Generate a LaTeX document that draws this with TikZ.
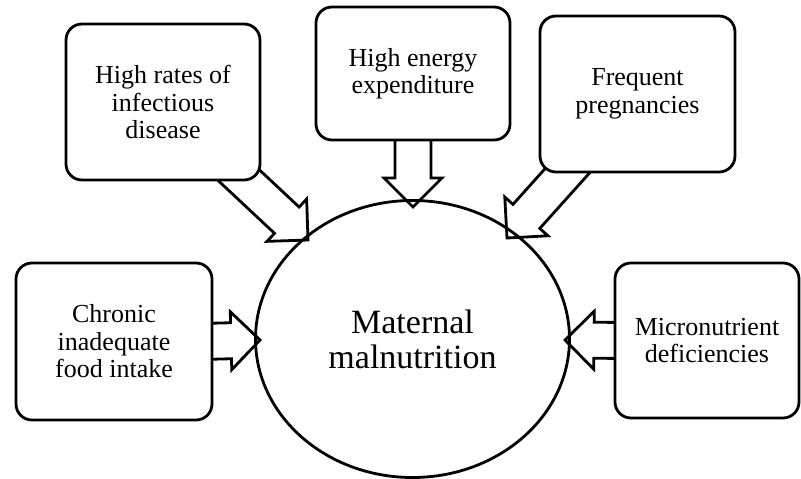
\documentclass[tikz,border=0pt]{standalone}
\usepackage{fontspec}
\setmainfont{Liberation Serif}
\usetikzlibrary{shapes.geometric,calc,backgrounds}
\newcommand\blockarrow[2]{%
  \coordinate (ba) at ($(#2)!29pt!(#1)$);
  \draw[blockarr] ($(#1)!18pt!90:(#2)$) -- ($(ba)!18pt!90:(#2)$) -- ($(ba)!29pt!90:(#2)$) -- (#2)
    -- ($(ba)!29pt!-90:(#2)$) -- ($(ba)!18pt!-90:(#2)$) -- ($(#1)!18pt!-90:(#2)$) -- cycle;}
\begin{document}
\begin{tikzpicture}[x=1pt,y=-1pt,
  box/.style={draw, line width=2.8pt, rounded corners=16pt, fill=white, align=center,
    font=\fontsize{26}{27.5}\selectfont, inner sep=0pt},
  bigtext/.style={align=center, font=\fontsize{34}{35}\selectfont},
  blockarr/.style={draw, line width=2.8pt, fill=white, line join=miter}]
\useasboundingbox (0,0) rectangle (801,479);
\node[box, minimum width=194pt, minimum height=156pt] (inf) at (163,102) {High rates of\\infectious\\disease};
\node[box, minimum width=194pt, minimum height=133pt] (en) at (413,73.5) {High energy\\expenditure};
\node[box, minimum width=195pt, minimum height=156pt] (preg) at (637.5,94) {Frequent\\pregnancies};
\node[box, minimum width=196pt, minimum height=157pt] (chr) at (114,341.5) {Chronic\\inadequate\\food intake};
\node[box, minimum width=184pt, minimum height=155pt] (mic) at (707,340.5) {Micronutrient\\deficiencies};
\node[ellipse, draw, line width=2.8pt, minimum width=314pt, minimum height=277pt, bigtext] (mal) at (412.5,339) {Maternal\\malnutrition};
\coordinate (s1) at (230,167); \coordinate (t1) at (308,240);
\coordinate (s2) at ($(en.south)+(0,-10)$); \coordinate (t2) at (413,207);
\coordinate (s3) at (577,160); \coordinate (t3) at (507,238);
\coordinate (s4) at ($(chr.east)+(-12,0)$); \coordinate (t4) at (260,340);
\coordinate (s5) at ($(mic.west)+(12,0)$); \coordinate (t5) at (565,340);
\begin{scope}[on background layer]
\blockarrow{s1}{t1}
\blockarrow{s2}{t2}
\blockarrow{s3}{t3}
\blockarrow{s4}{t4}
\blockarrow{s5}{t5}
\end{scope}
\end{tikzpicture}
\end{document}
